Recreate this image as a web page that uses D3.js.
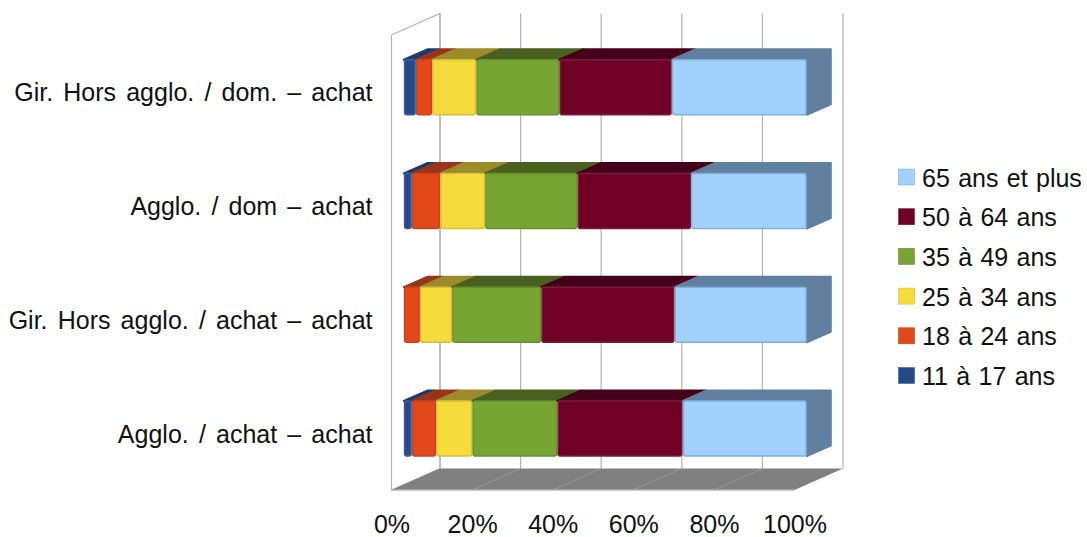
<!DOCTYPE html>
<html lang="fr">
<head>
<meta charset="utf-8">
<title>Répartition par âge</title>
<script src="https://cdn.jsdelivr.net/npm/d3@7/dist/d3.min.js"></script>
<style>
  html, body { margin: 0; padding: 0; background: #fff; }
  svg { display: block; }
  text { font-family: "Liberation Sans", Arial, sans-serif; fill: #111; word-spacing: 3.2px; }
  .legend-label { word-spacing: 1.4px; }
</style>
</head>
<body>
<svg id="chart" width="1087" height="537"></svg>
<script>
// Categories, listed from the top of the chart downwards
const categories = [
  "Gir. Hors agglo. / dom. – achat",
  "Agglo. / dom – achat",
  "Gir. Hors agglo. / achat – achat",
  "Agglo. / achat – achat"
];

// Share of each age band, in percent, per category
const ages11to17 = [3.0, 2.0, 0.0, 2.0];
const ages18to24 = [4.0, 7.0, 4.0, 6.0];
const ages25to34 = [11.0, 11.2, 8.0, 9.0];
const ages35to49 = [20.6, 22.9, 22.1, 21.1];
const ages50to64 = [27.9, 28.2, 33.1, 31.1];
const ages65plus = [33.5, 28.7, 32.8, 30.8];

const seriesNames = ["11 à 17 ans", "18 à 24 ans", "25 à 34 ans", "35 à 49 ans", "50 à 64 ans", "65 ans et plus"];
const seriesValues = [ages11to17, ages18to24, ages25to34, ages35to49, ages50to64, ages65plus];
const frontColors = ["#254a8a", "#e2491a", "#f6db3c", "#76a533", "#6f0026", "#a1d2fd"];
const topColors = ["#1c3a70", "#99351a", "#9b8b2a", "#4a6020", "#45001a", "#617f9f"];
const edgeColors = ["#3a5f9e", "#c9431c", "#d9bf3a", "#66912e", "#7d1d3c", "#7fb0dc"];
const tickValues = [0, 20, 40, 60, 80, 100];

const svg = d3.select("#chart");

// Oblique projection: the floor recedes up and to the right
const depthX = 48.5, depthY = -21.5;
const barDepthX = 24, barDepthY = -10.5;
const barShiftX = 12.3, barShiftY = -4.6;

const x = d3.scaleLinear().domain([0, 100]).range([391.5, 794.5]);
const y = d3.scaleBand().domain(categories).range([35, 490]).paddingInner(0.516).paddingOuter(0.258);

const wallColor = "#b3b3b3";
const closedPath = pts => d3.line()(pts) + "Z";
const plotTop = y.range()[0], plotBottom = y.range()[1];

// Left wall
svg.append("path")
  .attr("d", closedPath([[x(0), plotTop], [x(0) + depthX, plotTop + depthY], [x(0) + depthX, plotBottom + depthY], [x(0), plotBottom]]))
  .attr("fill", "#fff").attr("stroke", wallColor).attr("stroke-width", 1.2);

// Vertical gridlines on the back wall
svg.append("g").selectAll("line").data(tickValues).join("line")
  .attr("x1", d => x(d) + depthX).attr("x2", d => x(d) + depthX)
  .attr("y1", plotTop + depthY).attr("y2", plotBottom + depthY)
  .attr("stroke", wallColor).attr("stroke-width", 1.2);

// Floor with its receding gridlines
svg.append("path")
  .attr("d", closedPath([[x(0), plotBottom], [x(0) + depthX, plotBottom + depthY], [x(100) + depthX, plotBottom + depthY], [x(100), plotBottom]]))
  .attr("fill", "#808080");
svg.append("g").selectAll("line").data(tickValues.slice(1, -1)).join("line")
  .attr("x1", d => x(d)).attr("x2", d => x(d) + depthX)
  .attr("y1", plotBottom).attr("y2", plotBottom + depthY)
  .attr("stroke", "#9a9a9a").attr("stroke-width", 0.8);
svg.append("line")
  .attr("x1", x(0)).attr("x2", x(100)).attr("y1", plotBottom).attr("y2", plotBottom)
  .attr("stroke", wallColor).attr("stroke-width", 1.6);

// Stacked bars
const rows = categories.map((c, i) => {
  const row = { category: c };
  seriesNames.forEach((s, j) => { row[s] = seriesValues[j][i]; });
  return row;
});
const stacked = d3.stack().keys(seriesNames)(rows);

const bars = svg.append("g").attr("transform", `translate(${barShiftX},${barShiftY})`);
const segments = stacked.flatMap((layer, s) =>
  layer.map(d => ({ s, x0: d[0], x1: d[1], cat: d.data.category, value: d[1] - d[0] }))
).filter(d => d.value > 0);

// Top faces go first so that the front faces sit cleanly over them
bars.append("g").selectAll("path").data(segments).join("path")
  .attr("d", d => {
    const l = x(d.x0), r = x(d.x1), t = y(d.cat);
    return closedPath([[l, t], [l + barDepthX, t + barDepthY], [r + barDepthX - 1, t + barDepthY], [r - 1, t]]);
  })
  .attr("fill", d => topColors[d.s]).attr("stroke", d => topColors[d.s])
  .attr("stroke-width", 2).attr("stroke-linejoin", "round");

// End cap on the last band of each bar
bars.append("g").selectAll("path").data(segments.filter(d => d.s === seriesNames.length - 1)).join("path")
  .attr("d", d => {
    const r = x(d.x1), t = y(d.cat), b = t + y.bandwidth();
    return closedPath([[r, t], [r + barDepthX, t + barDepthY], [r + barDepthX, b + barDepthY], [r, b]]);
  })
  .attr("fill", d => topColors[d.s]).attr("stroke", d => topColors[d.s])
  .attr("stroke-width", 2).attr("stroke-linejoin", "round");

// Front faces
bars.append("g").selectAll("rect").data(segments).join("rect")
  .attr("x", d => x(d.x0) + 0.7).attr("width", d => Math.max(x(d.x1) - x(d.x0) - 1.4, 1))
  .attr("y", d => y(d.cat)).attr("height", y.bandwidth())
  .attr("rx", 2).attr("ry", 2)
  .attr("fill", d => frontColors[d.s]).attr("stroke", d => edgeColors[d.s]).attr("stroke-width", 1.4);

// Axes
const fontSize = 25;
const xAxis = svg.append("g").attr("transform", `translate(0,${plotBottom + 15})`)
  .call(d3.axisBottom(x).tickValues(tickValues).tickFormat(d => d + "%").tickSize(0).tickPadding(10));
const yAxis = svg.append("g").attr("transform", `translate(${x(0) - 19},1.5)`)
  .call(d3.axisLeft(y).tickSize(0).tickPadding(0));
[xAxis, yAxis].forEach(a => {
  a.select(".domain").remove();
  a.selectAll("text").attr("font-size", fontSize).style("font-family", '"Liberation Sans", Arial, sans-serif').attr("fill", "#111");
});

// Legend, highest age band first
const legendOrder = d3.range(seriesNames.length).reverse();
const legend = svg.append("g").selectAll("g").data(legendOrder).join("g")
  .attr("transform", (d, i) => `translate(898.5,${169 + i * 39.7})`);
legend.append("rect").attr("width", 16).attr("height", 16)
  .attr("fill", d => frontColors[d]).attr("stroke", d => edgeColors[d]).attr("stroke-width", 0.6);
legend.append("text").attr("class", "legend-label").attr("x", 23.5).attr("y", 8.5).attr("dy", "0.36em")
  .attr("font-size", fontSize).text(d => seriesNames[d]);
</script>
</body>
</html>
